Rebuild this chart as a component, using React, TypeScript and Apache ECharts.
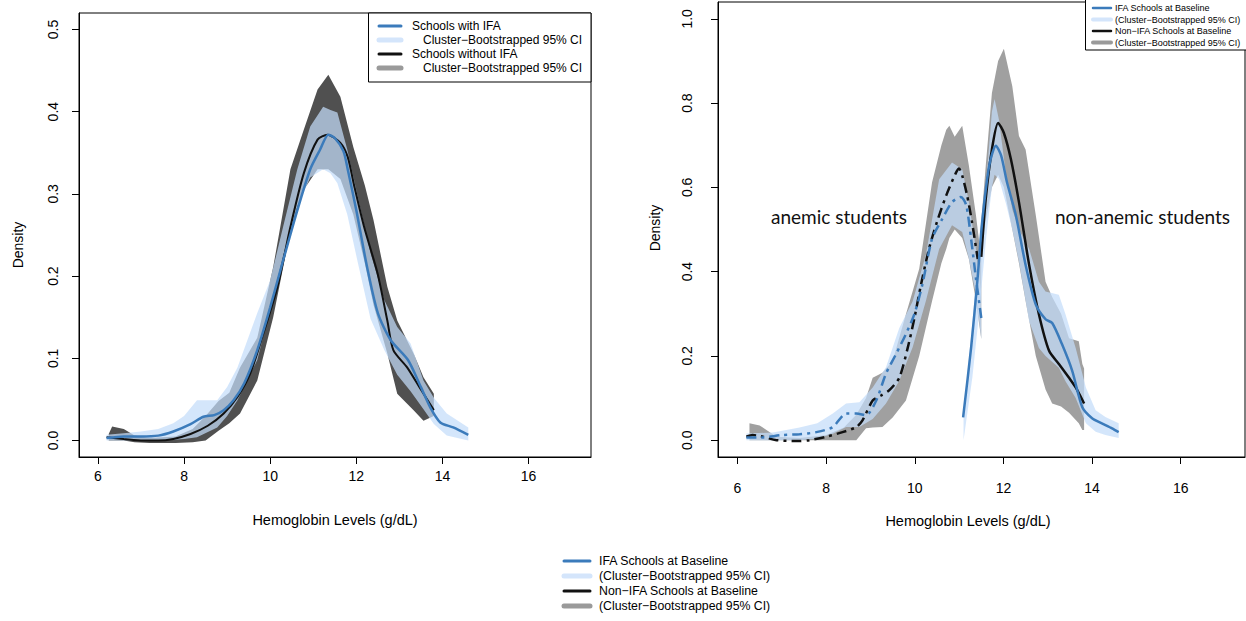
import React, { useEffect, useRef } from 'react';
import * as echarts from 'echarts';

// ---------- tick labels ----------
const X_TICKS = [6, 8, 10, 12, 14, 16];
const Y_TICKS_LEFT = [0, 0.1, 0.2, 0.3, 0.4, 0.5];
const Y_TICKS_RIGHT = [0, 0.2, 0.4, 0.6, 0.8, 1.0];

// ---------- left panel: Schools with / without IFA ----------
const L_IFA_X = [6.2, 6.6, 7.0, 7.4, 7.75, 8.15, 8.45, 8.7, 8.92, 9.15, 9.4, 9.7, 10.0, 10.3, 10.63, 10.93, 11.16, 11.35, 11.5, 11.7, 11.8, 12.0, 12.25, 12.5, 12.8, 13.2, 13.5, 13.72, 13.95, 14.25, 14.6];
const L_IFA_Y = [0.003, 0.005, 0.005, 0.006, 0.011, 0.02, 0.029, 0.031, 0.037, 0.049, 0.07, 0.11, 0.162, 0.219, 0.28, 0.33, 0.354, 0.372, 0.368, 0.352, 0.33, 0.28, 0.211, 0.155, 0.122, 0.098, 0.065, 0.04, 0.022, 0.016, 0.007];

const L_NON_X = [6.2, 6.6, 7.05, 7.4, 7.75, 8.15, 8.55, 8.92, 9.24, 9.54, 9.84, 10.17, 10.47, 10.78, 11.1, 11.33, 11.63, 11.8, 11.95, 12.18, 12.49, 12.72, 12.86, 13.18, 13.5, 13.8];
const L_NON_Y = [0.004, 0.002, 0.0, 0.0, 0.002, 0.008, 0.018, 0.033, 0.053, 0.082, 0.13, 0.187, 0.26, 0.325, 0.366, 0.372, 0.362, 0.345, 0.31, 0.26, 0.204, 0.146, 0.11, 0.089, 0.062, 0.037];

const L_NON_CI_X = [6.25, 6.33, 6.6, 6.85, 7.2, 7.8, 8.2, 8.5, 8.8, 9.05, 9.3, 9.7, 10.07, 10.47, 10.78, 11.1, 11.35, 11.63, 11.93, 12.2, 12.4, 12.72, 12.95, 13.33, 13.56, 13.8];
const L_NON_CI_HI = [0.008, 0.017, 0.014, 0.006, 0.003, 0.005, 0.014, 0.03, 0.048, 0.058, 0.089, 0.125, 0.211, 0.33, 0.378, 0.427, 0.445, 0.418, 0.357, 0.31, 0.268, 0.187, 0.146, 0.106, 0.077, 0.057];
const L_NON_CI_LO = [0.0, 0.0, 0.0, -0.002, -0.003, -0.003, -0.002, 0.0, 0.012, 0.021, 0.033, 0.073, 0.15, 0.255, 0.305, 0.33, 0.33, 0.318, 0.275, 0.215, 0.165, 0.106, 0.057, 0.037, 0.024, 0.03];

const L_IFA_CI_X = [6.2, 6.6, 7.0, 7.4, 7.75, 8.0, 8.3, 8.77, 9.0, 9.24, 9.7, 10.0, 10.3, 10.63, 10.93, 11.23, 11.4, 11.56, 11.79, 12.02, 12.33, 12.65, 12.95, 13.26, 13.56, 13.8, 14.1, 14.6];
const L_IFA_CI_HI = [0.007, 0.009, 0.011, 0.014, 0.021, 0.03, 0.049, 0.049, 0.065, 0.089, 0.155, 0.195, 0.26, 0.33, 0.382, 0.406, 0.402, 0.399, 0.354, 0.3, 0.228, 0.171, 0.138, 0.118, 0.073, 0.052, 0.033, 0.016];
const L_IFA_CI_LO = [0.0, 0.0, 0.0, 0.0, 0.001, 0.002, 0.004, 0.016, 0.03, 0.049, 0.098, 0.16, 0.225, 0.285, 0.32, 0.33, 0.325, 0.313, 0.275, 0.22, 0.148, 0.11, 0.08, 0.06, 0.038, 0.02, 0.006, 0.0];

// ---------- right panel: baseline, anemic / non-anemic ----------
const R_NON_AN_X = [6.2, 6.34, 6.5, 6.88, 7.4, 7.62, 8.0, 8.37, 8.68, 8.82, 9.05, 9.24, 9.42, 9.65, 9.84, 9.99, 10.14, 10.32, 10.5, 10.71, 10.93, 11.0, 11.07, 11.18, 11.29, 11.42];
const R_NON_AN_Y = [0.008, 0.012, 0.01, 0.0, -0.002, 0.0, 0.008, 0.019, 0.031, 0.047, 0.094, 0.106, 0.118, 0.148, 0.219, 0.289, 0.369, 0.454, 0.518, 0.581, 0.635, 0.645, 0.628, 0.581, 0.518, 0.43];

const R_IFA_AN_X = [6.2, 6.5, 7.0, 7.4, 7.78, 8.15, 8.45, 8.68, 8.9, 9.13, 9.35, 9.58, 9.8, 9.99, 10.17, 10.39, 10.62, 10.84, 11.04, 11.16, 11.27, 11.38, 11.5];
const R_IFA_AN_Y = [0.006, 0.006, 0.012, 0.014, 0.019, 0.031, 0.063, 0.063, 0.059, 0.094, 0.158, 0.205, 0.252, 0.299, 0.369, 0.478, 0.525, 0.565, 0.577, 0.558, 0.478, 0.384, 0.29];

const R_IFA_NA_X = [11.09, 11.27, 11.41, 11.52, 11.68, 11.83, 11.95, 12.08, 12.28, 12.5, 12.73, 12.95, 13.1, 13.32, 13.55, 13.78, 14.0, 14.22, 14.45, 14.6];
const R_IFA_NA_Y = [0.054, 0.219, 0.376, 0.518, 0.652, 0.699, 0.675, 0.612, 0.534, 0.416, 0.322, 0.287, 0.278, 0.228, 0.165, 0.078, 0.052, 0.04, 0.028, 0.019];

const R_NON_NA_X = [11.5, 11.6, 11.74, 11.88, 12.01, 12.17, 12.35, 12.58, 12.8, 13.03, 13.25, 13.48, 13.63, 13.82];
const R_NON_NA_Y = [0.435, 0.572, 0.69, 0.753, 0.729, 0.666, 0.565, 0.416, 0.299, 0.212, 0.181, 0.148, 0.125, 0.087];

const R_NON_AN_CI_X = [6.27, 6.5, 6.88, 7.4, 8.0, 8.4, 8.68, 8.9, 9.05, 9.27, 9.5, 9.8, 10.1, 10.39, 10.6, 10.71, 10.78, 10.9, 11.07, 11.22, 11.38, 11.5];
const R_NON_AN_CI_HI = [0.04, 0.035, 0.008, 0.005, 0.012, 0.03, 0.06, 0.1, 0.148, 0.16, 0.188, 0.299, 0.407, 0.612, 0.7, 0.737, 0.746, 0.72, 0.746, 0.652, 0.534, 0.43];
const R_NON_AN_CI_LO = [0.0, 0.0, 0.0, 0.0, 0.0, 0.0, 0.0, 0.028, 0.03, 0.031, 0.054, 0.094, 0.2, 0.33, 0.42, 0.454, 0.48, 0.5, 0.48, 0.43, 0.33, 0.24];

const R_NON_NA_CI_X = [11.45, 11.6, 11.74, 11.88, 12.01, 12.2, 12.35, 12.5, 12.73, 12.95, 13.1, 13.3, 13.48, 13.7, 13.78, 13.82];
const R_NON_NA_CI_HI = [0.454, 0.65, 0.824, 0.9, 0.929, 0.84, 0.722, 0.69, 0.534, 0.376, 0.34, 0.3, 0.242, 0.235, 0.181, 0.17];
const R_NON_NA_CI_LO = [0.43, 0.52, 0.6, 0.63, 0.6, 0.5, 0.42, 0.33, 0.2, 0.12, 0.087, 0.08, 0.065, 0.04, 0.024, 0.024];

const R_IFA_AN_CI_X = [6.2, 6.8, 7.4, 7.8, 8.15, 8.45, 8.75, 9.05, 9.35, 9.65, 9.95, 10.25, 10.55, 10.84, 11.07, 11.22, 11.38, 11.5];
const R_IFA_AN_CI_HI = [0.016, 0.018, 0.03, 0.04, 0.063, 0.087, 0.09, 0.125, 0.173, 0.266, 0.329, 0.44, 0.619, 0.659, 0.643, 0.565, 0.454, 0.35];
const R_IFA_AN_CI_LO = [0.0, 0.0, 0.0, 0.004, 0.015, 0.031, 0.031, 0.05, 0.087, 0.141, 0.22, 0.33, 0.454, 0.51, 0.494, 0.431, 0.346, 0.24];

const R_IFA_NA_CI_X = [11.1, 11.3, 11.45, 11.61, 11.74, 11.8, 11.9, 12.06, 12.2, 12.35, 12.58, 12.8, 12.95, 13.25, 13.4, 13.63, 13.86, 14.08, 14.3, 14.6];
const R_IFA_NA_CI_HI = [0.06, 0.28, 0.454, 0.612, 0.78, 0.81, 0.76, 0.628, 0.548, 0.5, 0.454, 0.376, 0.353, 0.345, 0.299, 0.219, 0.125, 0.071, 0.055, 0.04];
const R_IFA_NA_CI_LO = [0.0, 0.15, 0.3, 0.48, 0.6, 0.63, 0.62, 0.56, 0.5, 0.424, 0.282, 0.219, 0.2, 0.172, 0.14, 0.1, 0.04, 0.02, 0.012, 0.005];

// ---------- legend texts ----------
const LEFT_LEGEND = ['Schools with IFA', 'Cluster\u2212Bootstrapped 95% CI', 'Schools without IFA', 'Cluster\u2212Bootstrapped 95% CI'];
const BASE_LEGEND = ['IFA Schools at Baseline', '(Cluster\u2212Bootstrapped 95% CI)', 'Non\u2212IFA Schools at Baseline', '(Cluster\u2212Bootstrapped 95% CI)'];

// ---------- styles ----------
const FONT = '"Liberation Sans", Arial, Helvetica, sans-serif';
const BLUE = '#3b7bbb';
const LIGHT_BAND = 'rgba(196,220,250,0.72)';
const DARK_GRAY = '#505050';
const MID_GRAY = '#a0a0a0';
const LEG_LIGHT = '#d4e5fb';
const LEG_GRAY = '#9a9a9a';

function pairs(xs: number[], ys: number[]) {
  return xs.map((x, i) => [x, ys[i]]);
}

function band(name: string, xs: number[], lo: number[], hi: number[], color: string, gi: number, z: number) {
  const data = xs.map((x, i) => [x, lo[i], hi[i]]);
  return {
    type: 'custom',
    name,
    xAxisIndex: gi,
    yAxisIndex: gi,
    z,
    silent: true,
    clip: true,
    encode: { x: 0, y: [1, 2] },
    data,
    renderItem: (params: any, api: any) => {
      if (params.dataIndex !== 0) return null;
      const pts: number[][] = [];
      for (let i = 0; i < data.length; i++) pts.push(api.coord([data[i][0], data[i][2]]));
      for (let i = data.length - 1; i >= 0; i--) pts.push(api.coord([data[i][0], data[i][1]]));
      return { type: 'polygon', shape: { points: pts }, style: { fill: color, stroke: 'none' } };
    },
  };
}

function line(name: string, xs: number[], ys: number[], color: string, width: number, gi: number, z: number, dash?: any) {
  return {
    type: 'line',
    name,
    xAxisIndex: gi,
    yAxisIndex: gi,
    z,
    silent: true,
    showSymbol: false,
    symbol: 'none',
    smooth: 0.25,
    data: pairs(xs, ys),
    lineStyle: { color, width, type: dash || 'solid', cap: 'butt' },
  };
}

function xAxis(gi: number, margin: number) {
  return {
    type: 'value',
    gridIndex: gi,
    min: 5.56,
    max: 17.45,
    axisLine: { show: true, onZero: false, lineStyle: { color: '#000', width: 1 } },
    axisTick: { show: true, length: 7, customValues: X_TICKS, lineStyle: { color: '#000', width: 1 } },
    axisLabel: { customValues: X_TICKS, fontSize: 14, color: '#000', fontFamily: FONT, margin, formatter: (v: number) => String(v) },
    splitLine: { show: false },
  };
}

function yAxis(gi: number, min: number, max: number, ticks: number[], margin: number) {
  return {
    type: 'value',
    gridIndex: gi,
    min,
    max,
    axisLine: { show: true, onZero: false, lineStyle: { color: '#000', width: 1 } },
    axisTick: { show: true, length: 7, customValues: ticks, lineStyle: { color: '#000', width: 1 } },
    axisLabel: { customValues: ticks, fontSize: 14, color: '#000', fontFamily: FONT, margin, rotate: 90, formatter: (v: number) => v.toFixed(1) },
    splitLine: { show: false },
  };
}

function legendBlock(x0: number, x1: number, tx: number[], ys: number[], texts: string[], fs: number, thin: number, thick: number) {
  const colors = [BLUE, LEG_LIGHT, '#111', LEG_GRAY];
  const widths = [thin, thick, thin, thick];
  const els: any[] = [];
  ys.forEach((y, i) => {
    els.push({ type: 'line', z: 101, shape: { x1: x0, y1: y, x2: x1, y2: y }, style: { stroke: colors[i], lineWidth: widths[i], lineCap: 'round' } });
    els.push({ type: 'text', z: 101, x: tx[i], y, style: { text: texts[i], font: `${fs}px ${FONT}`, fill: '#000', textAlign: 'left', textVerticalAlign: 'middle' } });
  });
  return els;
}

const option: any = {
  animation: false,
  backgroundColor: '#fff',
  grid: [
    { left: 79, top: 13, width: 512, height: 444, show: true, borderColor: '#000', borderWidth: 1, backgroundColor: 'transparent' },
    { left: 718, top: 2, width: 527, height: 455, show: true, borderColor: '#000', borderWidth: 1, backgroundColor: 'transparent' },
  ],
  xAxis: [xAxis(0, 12), xAxis(1, 24)],
  yAxis: [yAxis(0, -0.02, 0.52, Y_TICKS_LEFT, 19), yAxis(1, -0.04, 1.04, Y_TICKS_RIGHT, 24)],
  series: [
    band('Schools without IFA CI', L_NON_CI_X, L_NON_CI_LO, L_NON_CI_HI, DARK_GRAY, 0, 1),
    band('Schools with IFA CI', L_IFA_CI_X, L_IFA_CI_LO, L_IFA_CI_HI, LIGHT_BAND, 0, 2),
    line('Schools without IFA', L_NON_X, L_NON_Y, '#111', 2, 0, 3),
    line('Schools with IFA', L_IFA_X, L_IFA_Y, BLUE, 2.5, 0, 4),

    band('Non-IFA anemic CI', R_NON_AN_CI_X, R_NON_AN_CI_LO, R_NON_AN_CI_HI, MID_GRAY, 1, 1),
    band('Non-IFA non-anemic CI', R_NON_NA_CI_X, R_NON_NA_CI_LO, R_NON_NA_CI_HI, MID_GRAY, 1, 1),
    band('IFA anemic CI', R_IFA_AN_CI_X, R_IFA_AN_CI_LO, R_IFA_AN_CI_HI, LIGHT_BAND, 1, 2),
    band('IFA non-anemic CI', R_IFA_NA_CI_X, R_IFA_NA_CI_LO, R_IFA_NA_CI_HI, LIGHT_BAND, 1, 2),
    line('Non-IFA anemic', R_NON_AN_X, R_NON_AN_Y, '#111', 2.5, 1, 3, [10, 5, 3, 5]),
    line('Non-IFA non-anemic', R_NON_NA_X, R_NON_NA_Y, '#111', 2.5, 1, 3),
    line('IFA anemic', R_IFA_AN_X, R_IFA_AN_Y, BLUE, 2.5, 1, 4, [10, 5, 3, 5]),
    line('IFA non-anemic', R_IFA_NA_X, R_IFA_NA_Y, BLUE, 2.5, 1, 4),
  ],
  graphic: [
    // axis titles
    { type: 'text', z: 100, x: 335, y: 520, style: { text: 'Hemoglobin Levels (g/dL)', font: `14.5px ${FONT}`, fill: '#000', textAlign: 'center', textVerticalAlign: 'middle' } },
    { type: 'text', z: 100, x: 968, y: 521, style: { text: 'Hemoglobin Levels (g/dL)', font: `14.5px ${FONT}`, fill: '#000', textAlign: 'center', textVerticalAlign: 'middle' } },
    { type: 'text', z: 100, x: 18, y: 245, rotation: Math.PI / 2, style: { text: 'Density', font: `14px ${FONT}`, fill: '#000', textAlign: 'center', textVerticalAlign: 'middle' } },
    { type: 'text', z: 100, x: 655, y: 228, rotation: Math.PI / 2, style: { text: 'Density', font: `14px ${FONT}`, fill: '#000', textAlign: 'center', textVerticalAlign: 'middle' } },
    // annotations
    { type: 'text', z: 100, x: 771, y: 216, style: { text: 'anemic students', font: `19px Lato, "Open Sans", sans-serif`, fill: '#111', textAlign: 'left', textVerticalAlign: 'middle' } },
    { type: 'text', z: 100, x: 1055, y: 216, style: { text: 'non-anemic students', font: `19px Lato, "Open Sans", sans-serif`, fill: '#111', textAlign: 'left', textVerticalAlign: 'middle' } },
    // left legend
    { type: 'rect', z: 100, shape: { x: 368.5, y: 13, width: 222.5, height: 69 }, style: { fill: '#fff', stroke: '#000', lineWidth: 1 } },
    ...legendBlock(379, 401, [412, 423, 412, 423], [26, 40, 54, 68], LEFT_LEGEND, 12, 3, 5),
    // right legend
    { type: 'rect', z: 100, shape: { x: 1085.5, y: -1, width: 170, height: 51 }, style: { fill: '#fff', stroke: '#000', lineWidth: 1 } },
    ...legendBlock(1093, 1111, [1115, 1115, 1115, 1115], [8, 19.5, 31, 42.5], BASE_LEGEND, 9, 2.5, 4),
    // bottom legend
    ...legendBlock(564, 590, [599, 599, 599, 599], [561, 576, 591, 606], BASE_LEGEND, 12.3, 3, 5),
  ],
};

export default function App() {
  const ref = useRef<HTMLDivElement>(null);
  useEffect(() => {
    const chart = echarts.init(ref.current as HTMLDivElement, null, { renderer: 'svg' });
    chart.setOption(option);
    return () => chart.dispose();
  }, []);
  return (
    <div
      ref={ref}
      style={{ position: 'fixed', left: 0, top: 0, width: 1246, height: 621, background: '#fff' }}
    />
  );
}
